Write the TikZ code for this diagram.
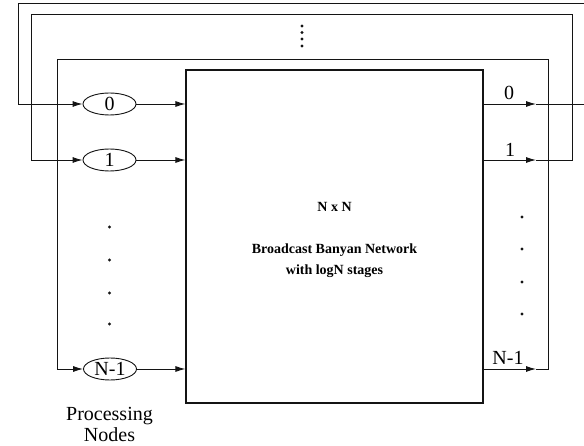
\documentclass[tikz,border=0pt]{standalone}
\usepackage{fontspec}
\setmainfont{Liberation Serif}
\usepackage{xcolor}
\usetikzlibrary{arrows.meta,positioning,shapes.geometric}
\definecolor{ink}{RGB}{20,20,20}

\begin{document}
\begin{tikzpicture}[
  x=1pt, y=-1pt,
  netbox/.style={draw=ink, line width=1.1pt, minimum width=297pt, minimum height=333pt},
  pnode/.style={draw=ink, ellipse, line width=0.9pt, minimum width=53pt, minimum height=22pt, inner sep=0pt, font=\fontsize{20}{22}\selectfont},
  lbl/.style={font=\fontsize{20}{22}\selectfont, inner sep=0pt},
  netlbl/.style={font=\fontsize{14}{21}\selectfont\bfseries, align=center, inner sep=0pt},
  dot/.style={circle, fill=ink, inner sep=0pt, minimum size=3.4pt},
  wire/.style={draw=ink, line width=0.9pt},
  arr/.style={wire, -{Latex[length=10pt, width=6pt]}}
]
  \useasboundingbox (0,0) rectangle (584,446);

  % switching fabric
  \node[netbox] (net) at (334.5,236.5) {};
  \node[netlbl] (nxn) at (334.5,207) {N x N};
  \node[netlbl] (bbn) at (334.5,260.5) {Broadcast Banyan Network\\with logN stages};

  % processing nodes
  \node[pnode] (pn0) at (109.5,104) {0};
  \node[pnode] (pn1) at (109.5,160) {1};
  \node[pnode] (pnN) at (110,369) {N-1};
  \node[lbl, align=center, font=\fontsize{20}{21}\selectfont] (pcap) at (109.5,424) {Processing\\Nodes};
  \foreach \y in {227,260,293,324} \node[dot] at (109.5,\y) {};

  % output ports
  \node[lbl] (out0) at (509,93) {0};
  \node[lbl] (out1) at (510,150) {1};
  \node[lbl] (outN) at (508,358) {N-1};
  \foreach \y in {217,249,282,314} \node[dot] at (522,\y) {};
  \foreach \y in {26,32.5,39,46} \node[dot] at (302,\y) {};

  % loop corners
  \coordinate (lt0) at (18,3);
  \coordinate (lt1) at (31,14);
  \coordinate (ltN) at (57,59);
  \coordinate (rt0) at (592,3);
  \coordinate (rt1) at (572,14);
  \coordinate (rtN) at (548,59);
  \coordinate (a0) at (536,104);
  \coordinate (a1) at (536,160);
  \coordinate (aN) at (536,369);

  \draw[arr] (pn0) -- (pn0 -| net.west);
  \draw[arr] (pn1) -- (pn1 -| net.west);
  \draw[arr] (pnN) -- (pnN -| net.west);

  \draw[arr] (net.east |- a0) -- (a0);
  \draw[arr] (net.east |- a1) -- (a1);
  \draw[arr] (net.east |- aN) -- (aN);

  \draw[arr] (a0) -| (rt0) -- (lt0) |- (pn0);
  \draw[arr] (a1) -| (rt1) -- (lt1) |- (pn1);
  \draw[arr] (aN) -| (rtN) -- (ltN) |- (pnN);
\end{tikzpicture}
\end{document}
